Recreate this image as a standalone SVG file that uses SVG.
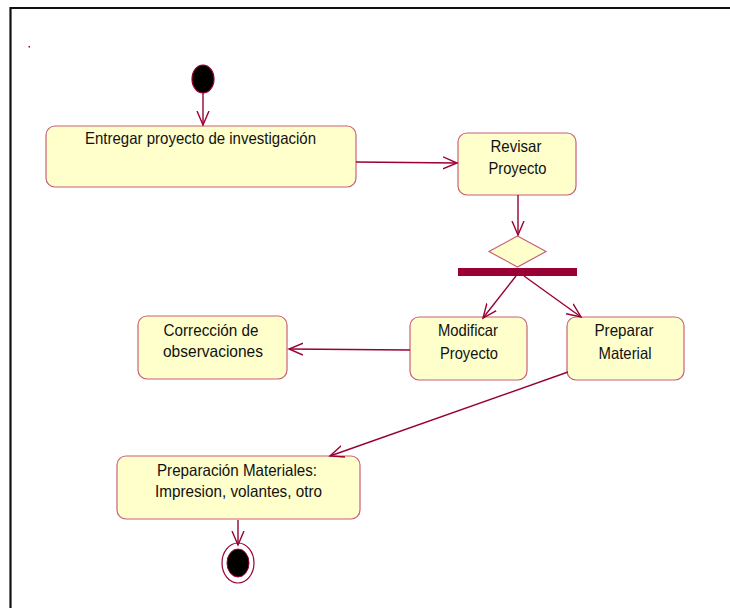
<svg xmlns="http://www.w3.org/2000/svg" width="730" height="608" viewBox="0 0 730 608">
  <style>
    .act { fill: #FFFFCC; stroke: #C8607A; stroke-width: 1.2; }
    .lbl { font-family: "Liberation Sans", Arial, sans-serif; font-size: 16.5px; fill: #111111; text-anchor: middle; }
    .flow { fill: none; stroke: #990033; stroke-width: 1.4; marker-end: url(#open); }
    .frame { fill: none; stroke: #111111; stroke-width: 2.2; }
  </style>
  <defs>
    <marker id="open" markerUnits="userSpaceOnUse" markerWidth="16" markerHeight="14" refX="14" refY="6" orient="auto" viewBox="0 0 16 12">
      <path d="M0,0 L14,6 L0,12" fill="none" stroke="#990033" stroke-width="1.4"/>
    </marker>
  </defs>

  <rect width="730" height="608" fill="#ffffff"/>
  <!-- page frame (top and left edges) -->
  <path class="frame" d="M10.5,608 L10.5,8 L730,8"/>
  <rect x="28.5" y="46" width="1.5" height="1.5" fill="#990033"/>

  <g id="start">
    <ellipse cx="203" cy="79" rx="11" ry="14" fill="#000000" stroke="#990033" stroke-width="1.2"/>
  </g>

  <g id="entregar">
    <rect class="act" x="46" y="126" width="310" height="61" rx="9"/>
    <text class="lbl" x="200.5" y="144" textLength="231" lengthAdjust="spacingAndGlyphs">Entregar proyecto de investigación</text>
  </g>

  <g id="revisar">
    <rect class="act" x="458" y="133" width="118" height="62" rx="9"/>
    <text class="lbl" x="516" y="152" textLength="51" lengthAdjust="spacingAndGlyphs">Revisar</text>
    <text class="lbl" x="517.5" y="174" textLength="58" lengthAdjust="spacingAndGlyphs">Proyecto</text>
  </g>

  <g id="decision">
    <polygon points="517.5,236 546,251.5 517.5,267 489,251.5" fill="#FFFFCC" stroke="#C8607A" stroke-width="1.2"/>
  </g>

  <g id="fork">
    <rect x="458" y="268" width="119" height="8" fill="#990033"/>
  </g>

  <g id="correccion">
    <rect class="act" x="138" y="316" width="149" height="63" rx="9"/>
    <text class="lbl" x="211" y="336" textLength="95" lengthAdjust="spacingAndGlyphs">Corrección de</text>
    <text class="lbl" x="213" y="357" textLength="100" lengthAdjust="spacingAndGlyphs">observaciones</text>
  </g>

  <g id="modificar">
    <rect class="act" x="410" y="317" width="117" height="63" rx="9"/>
    <text class="lbl" x="468" y="336" textLength="60" lengthAdjust="spacingAndGlyphs">Modificar</text>
    <text class="lbl" x="469" y="359" textLength="58" lengthAdjust="spacingAndGlyphs">Proyecto</text>
  </g>

  <g id="preparar">
    <rect class="act" x="567" y="317" width="117" height="63" rx="9"/>
    <text class="lbl" x="624" y="336" textLength="59" lengthAdjust="spacingAndGlyphs">Preparar</text>
    <text class="lbl" x="625" y="359" textLength="53" lengthAdjust="spacingAndGlyphs">Material</text>
  </g>

  <g id="preparacion">
    <rect class="act" x="117" y="456" width="243" height="63" rx="9"/>
    <text class="lbl" x="237" y="476" textLength="160" lengthAdjust="spacingAndGlyphs">Preparación Materiales:</text>
    <text class="lbl" x="238.5" y="497" textLength="167" lengthAdjust="spacingAndGlyphs">Impresion, volantes, otro</text>
  </g>

  <g id="end">
    <ellipse cx="238" cy="563" rx="16" ry="20" fill="#ffffff" stroke="#990033" stroke-width="1.2"/>
    <ellipse cx="238" cy="563" rx="11" ry="14" fill="#000000" stroke="#990033" stroke-width="1"/>
  </g>

  <g id="connectors">
    <path class="flow" d="M203,93 L203,125"/>
    <path class="flow" d="M356,162 L457,163"/>
    <path class="flow" d="M518,195 L518,235"/>
    <path class="flow" d="M516,276 L483,318"/>
    <path class="flow" d="M524,276 L581,317"/>
    <path class="flow" d="M410,350 L289,349"/>
    <path class="flow" d="M568,372 L330,456"/>
    <path class="flow" d="M238,520 L238,545"/>
  </g>
</svg>
